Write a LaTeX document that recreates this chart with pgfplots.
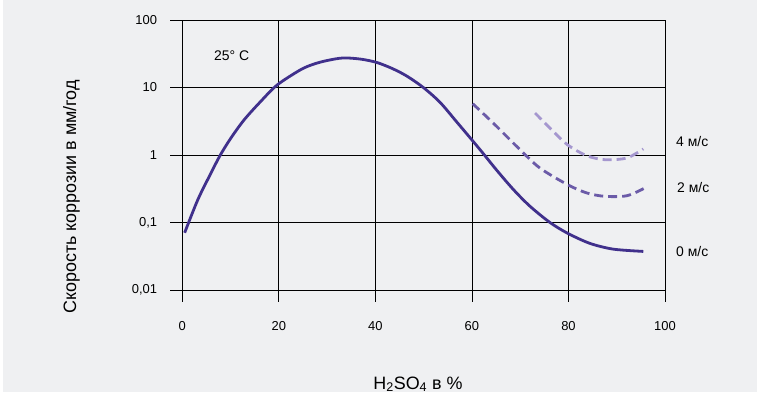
\documentclass[border=0pt]{standalone}
\usepackage{pgfplots}
\pgfplotsset{compat=1.18}
\usepackage{fontspec}
\setmainfont{Liberation Sans}
\definecolor{bg}{HTML}{EFF0F2}
\definecolor{c0}{HTML}{40308C}
\definecolor{c2}{HTML}{6B5BA8}
\definecolor{c4}{HTML}{A597CF}
\begin{document}
\begin{tikzpicture}[x=1bp,y=1bp]
\useasboundingbox (0,0) rectangle (757,392);
\fill[bg] (3,0) rectangle (757,392);
\begin{axis}[
  at={(182.3bp,102bp)}, anchor=south west,
  scale only axis, width=482.7bp, height=270bp,
  xmin=0, xmax=100, ymin=0.01, ymax=100, ymode=log,
  xtick={0,20,40,60,80,100}, xticklabels={0,20,40,60,80,100},
  ytick={0.01,0.1,1,10,100}, yticklabels={{0,01},{0,1},1,10,100},
  yminorticks=false,
  grid=major, major grid style={black, line width=0.8bp},
  axis line style={black, line width=0.8bp},
  tick style={black, line width=0.8bp},
  tick align=outside, major tick length=12bp,
  xtick pos=bottom, ytick pos=left,
  ticklabel style={font=\fontsize{13}{15}\selectfont, inner sep=0pt},
  yticklabel style={anchor=east, xshift=-13bp},
  xticklabel style={anchor=north, yshift=-19bp},
  clip=false,
]
\addplot[c0, line width=2.8bp, smooth] coordinates {
(0.49,0.0705) (3.22,0.218) (5.95,0.542) (7.88,1.0) (10.06,1.78) (12.81,3.32)
(16.22,6.19) (19.65,10.9) (24.43,18.2) (27.14,22.1) (30,25.1) (33.35,27.4)
(37,26.3) (40.27,23.5) (43.5,19.1) (46.49,14.8) (49.93,10) (53.39,6.03)
(56.85,3.09) (60.16,1.62) (62.36,1.047) (65.13,0.596) (68.57,0.309)
(72.03,0.174) (76.17,0.1) (79.84,0.0692) (84.46,0.049) (89.29,0.0403) (95.5,0.0373)
};
\addplot[c2, line width=2.8bp, smooth, dash pattern=on 9bp off 5bp] coordinates {
(60.16,5.75) (64.4,2.98) (69.96,1.2) (74.1,0.64) (79.84,0.363) (83.8,0.274)
(87.57,0.244) (92.07,0.249) (95.65,0.32)
};
\addplot[c4, line width=2.8bp, smooth, dash pattern=on 9bp off 5bp] coordinates {
(73.07,4.19) (76.86,2.24) (79.84,1.41) (83.78,0.977) (87.57,0.851) (92.07,0.903) (95.5,1.23)
};
\end{axis}
\node[anchor=base west, inner sep=0pt, font=\fontsize{14}{16}\selectfont] at (214,332) {25° C};
\node[anchor=base west, inner sep=0pt, font=\fontsize{14}{16}\selectfont] at (676,246) {4 м/с};
\node[anchor=base west, inner sep=0pt, font=\fontsize{14}{16}\selectfont] at (677,199.7) {2 м/с};
\node[anchor=base west, inner sep=0pt, font=\fontsize{14}{16}\selectfont] at (676,136) {0 м/с};
\node[rotate=90, anchor=base, inner sep=0pt, font=\fontsize{18}{20}\selectfont] at (76,195) {Скорость коррозии в мм/год};
\node[anchor=base, inner sep=0pt, font=\fontsize{18}{20}\selectfont] at (418,3) {H\textsubscript{2}SO\textsubscript{4} в \%};
\end{tikzpicture}
\end{document}
